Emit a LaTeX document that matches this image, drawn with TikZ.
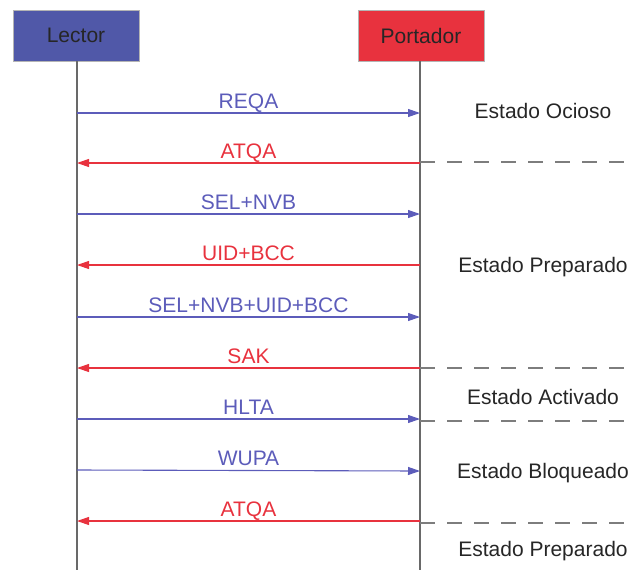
\documentclass[tikz,border=0pt]{standalone}
\usepackage{fontspec}
\setmainfont{Liberation Sans}
\usetikzlibrary{arrows.meta,positioning}
\definecolor{lecblue}{RGB}{80,88,168}
\definecolor{porred}{RGB}{232,50,62}
\definecolor{msgblue}{RGB}{92,92,186}
\definecolor{lifegray}{RGB}{105,105,105}
\definecolor{sepgray}{RGB}{125,125,125}

\begin{document}
\begin{tikzpicture}[
      x=1pt, y=-1pt,
      actor/.style={draw=lifegray!50, minimum width=126pt, minimum height=51pt, inner sep=0pt, text=black!85, font=\fontsize{21}{25}\selectfont},
      life/.style={lifegray, line width=1.1pt},
      req/.style={-{Triangle[length=12pt,width=8pt]}, msgblue, line width=1.1pt},
      resp/.style={-{Triangle[length=12pt,width=8pt]}, porred, line width=1.1pt},
      lbl/.style={above=4pt, inner sep=0pt, text depth=0pt, font=\fontsize{21}{25}\selectfont},
      sep/.style={sepgray, line width=1.1pt, dash pattern=on 15pt off 12pt},
      estado/.style={anchor=base, inner sep=0pt, text=black!85, font=\fontsize{21}{25}\selectfont}
    ]
      \useasboundingbox (0,0) rectangle (631,570);

      \node[actor, fill=lecblue] (lector) at (76,35.5) {Lector};
      \node[actor, fill=porred] (portador) at (421,35.5) {Portador};

      \coordinate (lend) at (77,570);
      \coordinate (pend) at (420,570);
      \draw[life] (lector.south -| lend) -- (lend);
      \draw[life] (portador.south -| pend) -- (pend);

      % mensajes
      \coordinate (l1) at (77,113);  \coordinate (p1) at (420,113);
      \coordinate (l2) at (77,163);  \coordinate (p2) at (420,163);
      \coordinate (l3) at (77,214);  \coordinate (p3) at (420,214);
      \coordinate (l4) at (77,265);  \coordinate (p4) at (420,265);
      \coordinate (l5) at (77,317);  \coordinate (p5) at (420,317);
      \coordinate (l6) at (77,368);  \coordinate (p6) at (420,368);
      \coordinate (l7) at (77,419);  \coordinate (p7) at (420,419);
      \coordinate (l8) at (77,470);  \coordinate (p8) at (420,471);
      \coordinate (l9) at (77,521);  \coordinate (p9) at (420,521);

      \draw[req] (l1) -- node[lbl, msgblue] {REQA} (p1);
      \draw[resp] (p2) -- node[lbl, porred] {ATQA} (l2);
      \draw[req] (l3) -- node[lbl, msgblue] {SEL+NVB} (p3);
      \draw[resp] (p4) -- node[lbl, porred] {UID+BCC} (l4);
      \draw[req] (l5) -- node[lbl, msgblue] {SEL+NVB+UID+BCC} (p5);
      \draw[resp] (p6) -- node[lbl, porred] {SAK} (l6);
      \draw[req] (l7) -- node[lbl, msgblue] {HLTA} (p7);
      \draw[req] (l8) -- node[lbl, msgblue] {WUPA} (p8);
      \draw[resp] (p9) -- node[lbl, porred] {ATQA} (l9);

      % separadores de estado
      \coordinate (s1) at (420,162);  \coordinate (e1) at (631,162);
      \coordinate (s2) at (420,368);  \coordinate (e2) at (631,368);
      \coordinate (s3) at (420,421);  \coordinate (e3) at (631,421);
      \coordinate (s4) at (420,523);  \coordinate (e4) at (631,523);
      \draw[sep] (s1) -- (e1);
      \draw[sep] (s2) -- (e2);
      \draw[sep] (s3) -- (e3);
      \draw[sep] (s4) -- (e4);

      \node[estado] (ocioso) at (543,118) {Estado Ocioso};
      \node[estado] (prep1) at (543,272) {Estado Preparado};
      \node[estado] (activo) at (543,404) {Estado Activado};
      \node[estado] (bloq) at (543,478) {Estado Bloqueado};
      \node[estado] (prep2) at (543,556) {Estado Preparado};
    \end{tikzpicture}
\end{document}
